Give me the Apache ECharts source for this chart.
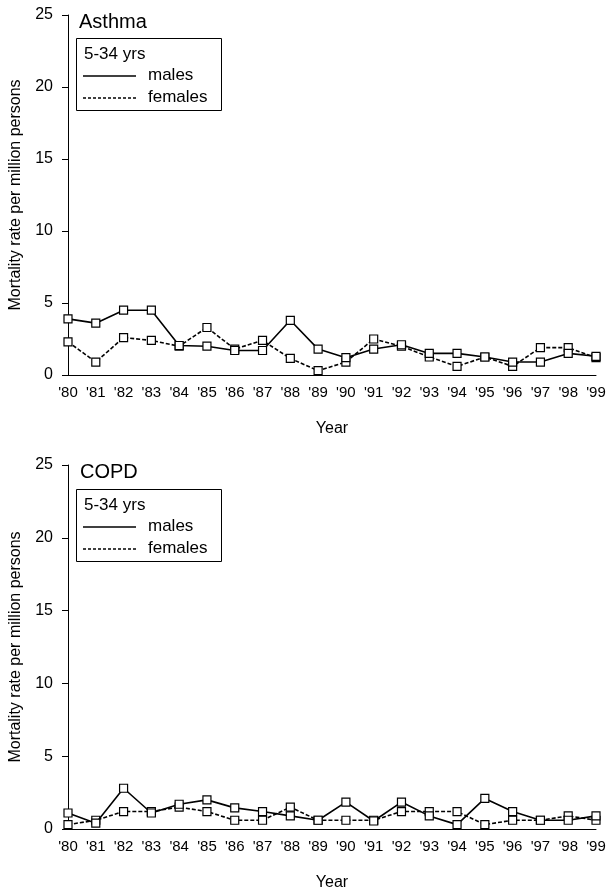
<!DOCTYPE html>
<html><head><meta charset="utf-8">
<script src="https://cdn.jsdelivr.net/npm/echarts@6/dist/echarts.min.js"></script>
<style>html,body{margin:0;padding:0;background:#fff}#c{width:610px;height:896px}</style>
</head><body><div id="c"></div>
<script>
const years = ["'80","'81","'82","'83","'84","'85","'86","'87","'88","'89","'90","'91","'92","'93","'94","'95","'96","'97","'98","'99"];
const asthmaMales   = [3.9, 3.6, 4.5, 4.5, 2.05, 2.0, 1.7, 1.7, 3.8, 1.8, 1.2, 1.8, 2.1, 1.5, 1.5, 1.25, 0.9, 0.9, 1.5, 1.3];
const asthmaFemales = [2.3, 0.9, 2.6, 2.4, 2.0, 3.3, 1.8, 2.4, 1.15, 0.3, 0.9, 2.5, 2.0, 1.25, 0.6, 1.25, 0.6, 1.9, 1.9, 1.2];
const copdMales     = [1.1, 0.4, 2.8, 1.1, 1.7, 2.0, 1.45, 1.2, 0.9, 0.6, 1.85, 0.55, 1.85, 0.9, 0.3, 2.1, 1.2, 0.6, 0.6, 0.9];
const copdFemales   = [0.3, 0.6, 1.2, 1.2, 1.5, 1.2, 0.6, 0.6, 1.5, 0.6, 0.6, 0.6, 1.2, 1.2, 1.2, 0.3, 0.6, 0.6, 0.9, 0.6];
const yTicks = [0, 5, 10, 15, 20, 25];
const panelTitles = ['Asthma', 'COPD'];
const legendHeader = '5-34 yrs';
const legendNames = ['males', 'females'];

const FONT = 'Liberation Sans, Arial, sans-serif';
const grids = [
  {left: 62, right: 14, top: 15, height: 360},
  {left: 62, right: 14, top: 465, height: 364}
];
function xAxis(i){
  return {type:'category', gridIndex:i, data:years, boundaryGap:false,
    axisLine:{show:true, lineStyle:{color:'#000', width:1}},
    axisTick:{show:false},
    axisLabel:{interval:0, color:'#000', fontFamily:FONT, fontSize:15, margin:10},
    name:'Year', nameLocation:'middle', nameGap:46,
    nameTextStyle:{color:'#000', fontFamily:FONT, fontSize:16}};
}
function yAxis(i){
  return {type:'value', gridIndex:i, min:yTicks[0], max:yTicks[yTicks.length-1], interval:5,
    axisLine:{show:true, lineStyle:{color:'#000', width:1}},
    axisTick:{show:true, length:6, lineStyle:{color:'#000'}},
    splitLine:{show:false},
    axisLabel:{color:'#000', fontFamily:FONT, fontSize:16, margin:15},
    name:'Mortality rate per million persons', nameLocation:'middle', nameGap:44,
    nameTextStyle:{color:'#000', fontFamily:FONT, fontSize:16}};
}
function line(name, data, i, dashed){
  return {type:'line', name:name, data:data, xAxisIndex:i, yAxisIndex:i,
    symbol:'rect', symbolSize:8, showAllSymbol:true,
    lineStyle:{color:'#000', width:1.6, type: dashed ? [4,2] : 'solid'},
    itemStyle:{color:'#fff', borderColor:'#000', borderWidth:1.2},
    z: dashed ? 2 : 3, animation:false};
}
function legendGraphic(top){
  const left = 76, w = 145, h = 72;
  return [
    {type:'rect', left:left, top:top, shape:{width:w, height:h}, style:{fill:'#fff', stroke:'#000', lineWidth:1}, z:10},
    {type:'text', left:left+8, top:top+8, style:{text:legendHeader, font:'17px '+FONT, fill:'#000'}, z:11},
    {type:'line', shape:{x1:left+7, y1:top+38, x2:left+60, y2:top+38}, style:{stroke:'#000', lineWidth:1.4}, z:11},
    {type:'text', left:left+72, top:top+29, style:{text:legendNames[0], font:'17px '+FONT, fill:'#000'}, z:11},
    {type:'line', shape:{x1:left+7, y1:top+60, x2:left+60, y2:top+60}, style:{stroke:'#000', lineWidth:1.4, lineDash:[3,2]}, z:11},
    {type:'text', left:left+72, top:top+51, style:{text:legendNames[1], font:'17px '+FONT, fill:'#000'}, z:11}
  ];
}
const chart = echarts.init(document.getElementById('c'), null, {renderer:'canvas'});
chart.setOption({
  animation:false,
  backgroundColor:'#fff',
  title:[
    {text:panelTitles[0], left:74, top:7, textStyle:{fontFamily:FONT, fontSize:20, fontWeight:'normal', color:'#000'}},
    {text:panelTitles[1], left:75, top:457, textStyle:{fontFamily:FONT, fontSize:20, fontWeight:'normal', color:'#000'}}
  ],
  grid:grids,
  xAxis:[xAxis(0), xAxis(1)],
  yAxis:[yAxis(0), yAxis(1)],
  series:[
    line(legendNames[0], asthmaMales, 0, false),
    line(legendNames[1], asthmaFemales, 0, true),
    line(legendNames[0], copdMales, 1, false),
    line(legendNames[1], copdFemales, 1, true)
  ],
  graphic:[].concat(legendGraphic(38), legendGraphic(489))
});
</script></body></html>
